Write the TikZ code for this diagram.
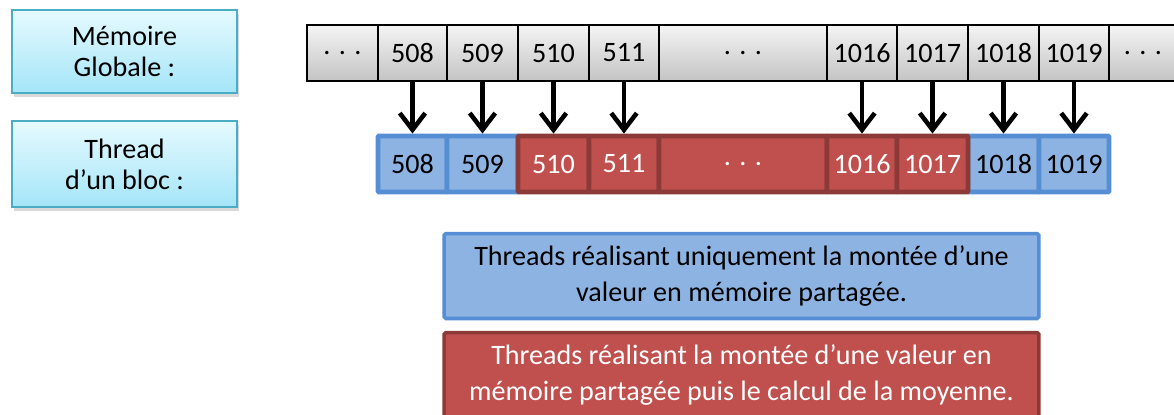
\documentclass[tikz,border=0pt]{standalone}
\usepackage{fontspec}
\setmainfont{Carlito}
\usetikzlibrary{arrows.meta,shadows}
\definecolor{grishaut}{HTML}{F4F4F4}
\definecolor{grisbas}{HTML}{C4C4C4}
\definecolor{cyanhaut}{HTML}{E6FAFF}
\definecolor{cyanbas}{HTML}{A4E5F8}
\definecolor{cyanbord}{HTML}{4BACC6}
\definecolor{bleuclair}{HTML}{8DB3E2}
\definecolor{bleufonce}{HTML}{558ED5}
\definecolor{rougeclair}{HTML}{C0504D}
\definecolor{rougefonce}{HTML}{8C3A38}
\tikzset{
	ombre/.style={drop shadow={opacity=0.3,shadow xshift=1pt,shadow yshift=-2pt}},
	etiq/.style={draw=cyanbord,line width=1.1pt,top color=cyanhaut,bottom color=cyanbas,
		minimum width=4.5cm,minimum height=1.66cm,align=center,
		font=\fontsize{16}{17.6}\selectfont,ombre},
	memcase/.style={draw=black,line width=0.85pt,top color=grishaut,bottom color=grisbas,
		minimum height=1.12cm,inner sep=0pt,font=\fontsize{16}{19}\selectfont},
	thrbleu/.style={draw=bleufonce,fill=bleuclair,line width=2.8pt,minimum height=1.12cm,
		inner sep=0pt,rounded corners=0.6pt,font=\fontsize{16}{19}\selectfont},
	thrrouge/.style={draw=rougefonce,fill=rougeclair,line width=2.8pt,minimum height=1.12cm,
		inner sep=0pt,rounded corners=0.6pt,text=white,font=\fontsize{16}{19}\selectfont},
	legende/.style={line width=2pt,minimum width=11.9cm,minimum height=1.7cm,align=center,
		rounded corners=1pt,font=\fontsize{16}{20.5}\selectfont},
	fleche/.style={line width=2.6pt,-{Straight Barb[length=9.5pt,width=14.5pt]}}
}
\begin{document}
\begin{tikzpicture}[x=0.02cm,y=-0.02cm]
	\useasboundingbox (0,0) rectangle (1174,414);
	% étiquettes à gauche
	\node[etiq] (memlbl) at (124.5,51.5) {Mémoire\\Globale :};
	\node[etiq,minimum height=1.72cm] (thrlbl) at (124.5,164) {Thread\\d’un bloc :};
	% mémoire globale
	\foreach \g/\d/\t/\n in {307/378/{. . .}/mA,378/447/508/m508,447/518/509/m509,
		518/589/510/m510,589/659/511/m511,659/827/{. . .}/mB,827/897/1016/m1016,
		897/968/1017/m1017,968/1039/1018/m1018,1039/1109/1019/m1019,1109/1177/{. . .}/mC}
		\node[memcase,minimum width={(\d-\g)*0.02cm}] (\n) at ({(\g+\d)/2},53) {\t};
	% threads du bloc
	\foreach \g/\d/\t/\n/\s in {378/447/508/t508/thrbleu,447/518/509/t509/thrbleu,
		968/1039/1018/t1018/thrbleu,1039/1109/1019/t1019/thrbleu,
		518/589/510/t510/thrrouge,589/659/511/t511/thrrouge,659/827/{. . .}/tB/thrrouge,
		827/897/1016/t1016/thrrouge,897/968/1017/t1017/thrrouge}
		\node[\s,minimum width={(\d-\g)*0.02cm}] (\n) at ({(\g+\d)/2},164) {\t};
	% flèches
	\foreach \n in {508,509,510,511,1016,1017,1018,1019}
		\draw[fleche] (m\n.south) -- (t\n.north);
	% légende
	\node[legende,draw=bleufonce,fill=bleuclair] (legbleu) at (741.5,276)
		{Threads réalisant uniquement la montée d’une\\valeur en mémoire partagée.};
	\node[legende,draw=rougefonce,fill=rougeclair,text=white] (legrouge) at (741.5,375)
		{Threads réalisant la montée d’une valeur en\\mémoire partagée puis le calcul de la moyenne.};
\end{tikzpicture}
\end{document}
